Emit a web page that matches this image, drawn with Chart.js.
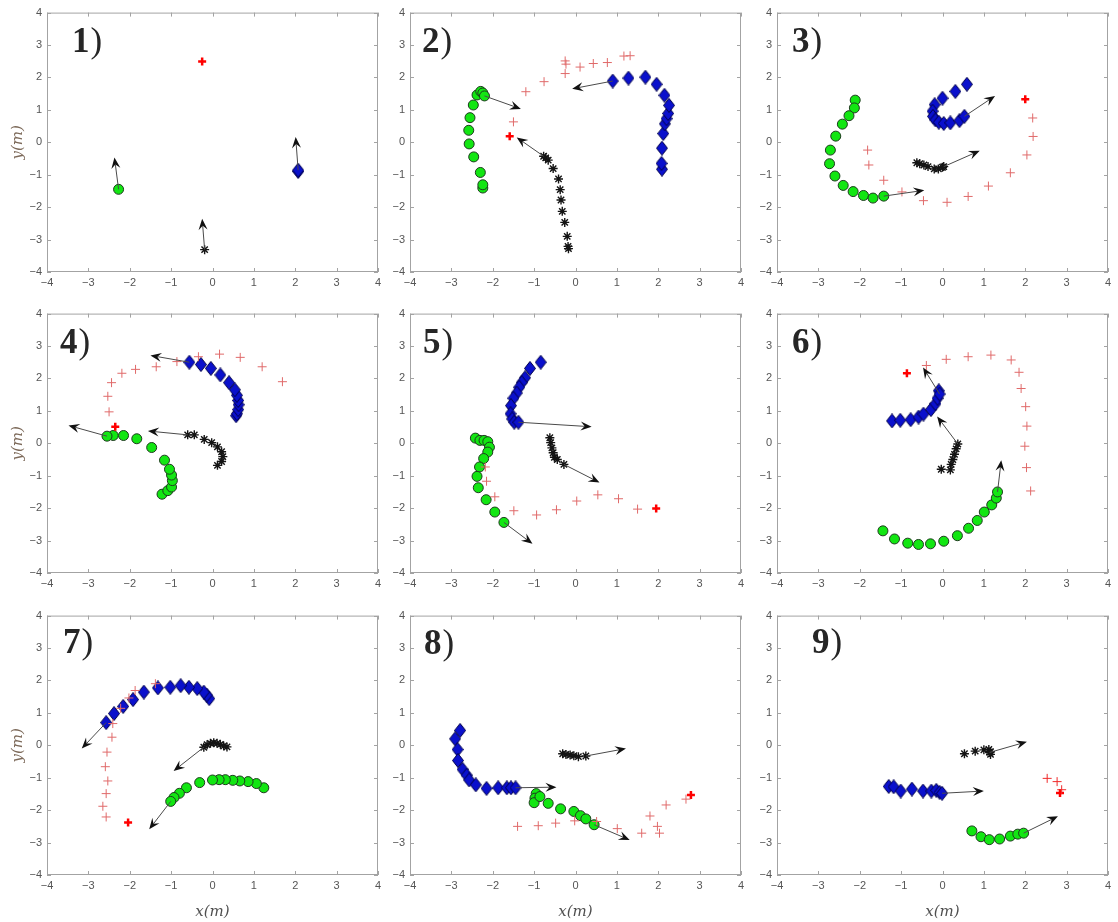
<!DOCTYPE html>
<html>
<head>
<meta charset="utf-8">
<title>tracks</title>
<script src="https://cdn.jsdelivr.net/npm/chart.js@4.4.1/dist/chart.umd.min.js"></script>
<style>
  body { margin: 0; background: #fff; }
  #wrap { position: relative; width: 1118px; height: 922px; overflow: hidden; }
  #wrap canvas { position: absolute; }
</style>
</head>
<body>
<div id="wrap"></div>
<script>
// axis ticks, both axes
const tickValues = [-4, -3, -2, -1, 0, 1, 2, 3, 4];
const panelNames = ['1)', '2)', '3)', '4)', '5)', '6)', '7)', '8)', '9)'];

// green circles, one list per panel (last point = arrow base)
const greenTracks = [
  [[-2.27, -1.45]],
  [[-2.24, -1.41], [-2.24, -1.31], [-2.30, -0.93], [-2.46, -0.45], [-2.57, -0.05], [-2.58, 0.37], [-2.55, 0.76], [-2.47, 1.15], [-2.38, 1.46], [-2.29, 1.57], [-2.24, 1.52], [-2.20, 1.43]],
  [[-2.11, 1.30], [-2.13, 1.06], [-2.26, 0.82], [-2.42, 0.56], [-2.58, 0.19], [-2.71, -0.24], [-2.73, -0.66], [-2.60, -1.04], [-2.40, -1.33], [-2.16, -1.52], [-1.91, -1.64], [-1.68, -1.72], [-1.42, -1.66]],
  [[-1.22, -1.57], [-1.08, -1.46], [-0.99, -1.35], [-0.97, -1.15], [-0.99, -0.98], [-1.04, -0.80], [-1.16, -0.52], [-1.47, -0.13], [-1.83, 0.14], [-2.15, 0.24], [-2.40, 0.24], [-2.55, 0.22]],
  [[-2.42, 0.16], [-2.31, 0.09], [-2.21, 0.09], [-2.12, 0.05], [-2.08, -0.12], [-2.12, -0.27], [-2.22, -0.47], [-2.32, -0.73], [-2.38, -1.02], [-2.35, -1.37], [-2.16, -1.74], [-1.95, -2.12], [-1.73, -2.44]],
  [[-1.44, -2.70], [-1.16, -2.95], [-0.84, -3.08], [-0.58, -3.12], [-0.29, -3.10], [0.03, -3.02], [0.36, -2.85], [0.63, -2.62], [0.84, -2.38], [1.01, -2.12], [1.19, -1.90], [1.30, -1.69], [1.33, -1.50]],
  [[1.24, -1.31], [1.06, -1.18], [0.86, -1.12], [0.66, -1.10], [0.49, -1.08], [0.31, -1.06], [0.16, -1.06], [0.00, -1.07], [-0.31, -1.15], [-0.63, -1.31], [-0.80, -1.48], [-0.93, -1.61], [-1.01, -1.73]],
  [[-0.95, -1.49], [-0.98, -1.63], [-1.00, -1.77], [-0.86, -1.58], [-0.66, -1.79], [-0.36, -1.96], [-0.04, -2.04], [0.12, -2.17], [0.25, -2.27], [0.45, -2.45]],
  [[0.71, -2.64], [0.93, -2.82], [1.13, -2.91], [1.38, -2.89], [1.64, -2.80], [1.82, -2.74], [1.96, -2.71]]
];
const greenTips = [[-2.37, -0.47], [-1.32, 1.03], [-0.44, -1.48], [-3.48, 0.55], [-1.04, -3.10], [1.42, -0.52], [-1.53, -2.59], [1.31, -2.92], [2.79, -2.19]];

// blue diamonds
const blueTracks = [
  [[2.07, -0.90], [2.07, -0.86]],
  [[2.09, -0.83], [2.08, -0.65], [2.09, -0.18], [2.12, 0.27], [2.16, 0.57], [2.20, 0.73], [2.24, 0.89], [2.26, 1.14], [2.15, 1.45], [1.96, 1.79], [1.69, 2.01], [1.28, 1.98], [0.90, 1.89]],
  [[0.59, 1.79], [0.31, 1.57], [0.00, 1.36], [-0.19, 1.16], [-0.24, 0.96], [-0.23, 0.80], [-0.17, 0.69], [-0.09, 0.62], [0.03, 0.58], [0.19, 0.60], [0.41, 0.67], [0.53, 0.80]],
  [[0.57, 0.85], [0.59, 0.91], [0.62, 1.04], [0.63, 1.19], [0.62, 1.32], [0.59, 1.48], [0.54, 1.65], [0.40, 1.87], [0.19, 2.11], [-0.04, 2.31], [-0.28, 2.43], [-0.56, 2.50]],
  [[-0.84, 2.50], [-1.10, 2.31], [-1.22, 2.02], [-1.30, 1.87], [-1.36, 1.73], [-1.42, 1.55], [-1.50, 1.39], [-1.56, 1.16], [-1.57, 0.91], [-1.53, 0.75], [-1.48, 0.65], [-1.38, 0.65]],
  [[-1.22, 0.69], [-1.02, 0.71], [-0.77, 0.73], [-0.58, 0.81], [-0.46, 0.90], [-0.28, 1.04], [-0.17, 1.22], [-0.12, 1.39], [-0.09, 1.62], [-0.07, 1.52]],
  [[-0.08, 1.44], [-0.14, 1.55], [-0.21, 1.64], [-0.37, 1.75], [-0.57, 1.79], [-0.77, 1.84], [-1.02, 1.79], [-1.32, 1.77], [-1.66, 1.64], [-1.92, 1.41], [-2.16, 1.20], [-2.38, 0.98], [-2.57, 0.70]],
  [[-2.79, 0.46], [-2.91, 0.20], [-2.85, -0.13], [-2.84, -0.47], [-2.73, -0.74], [-2.63, -0.92], [-2.57, -1.07], [-2.41, -1.22], [-2.15, -1.33], [-1.87, -1.31], [-1.66, -1.31], [-1.56, -1.31], [-1.45, -1.31]],
  [[-1.30, -1.27], [-1.18, -1.28], [-1.01, -1.41], [-0.74, -1.35], [-0.47, -1.41], [-0.27, -1.41], [-0.15, -1.39], [-0.07, -1.45], [-0.01, -1.48]]
];
const blueTips = [[2.01, 0.16], [-0.08, 1.65], [1.27, 1.43], [-1.50, 2.71], [0.39, 0.51], [-0.47, 2.34], [-3.16, -0.10], [-0.46, -1.29], [1.00, -1.41]];

// black asterisks
const blackTracks = [
  [[-0.19, -3.31]],
  [[-0.17, -3.28], [-0.18, -3.21], [-0.20, -2.90], [-0.26, -2.47], [-0.32, -2.13], [-0.35, -1.78], [-0.37, -1.46], [-0.41, -1.13], [-0.54, -0.81], [-0.66, -0.55], [-0.72, -0.48], [-0.77, -0.43]],
  [[-0.62, -0.63], [-0.55, -0.66], [-0.45, -0.70], [-0.35, -0.75], [-0.20, -0.82], [-0.10, -0.82], [0.00, -0.77], [0.03, -0.75]],
  [[0.12, -0.68], [0.22, -0.56], [0.25, -0.41], [0.22, -0.26], [0.12, -0.11], [-0.02, 0.02], [-0.20, 0.12], [-0.44, 0.26], [-0.60, 0.26]],
  [[-0.62, 0.17], [-0.60, 0.02], [-0.57, -0.14], [-0.54, -0.29], [-0.51, -0.43], [-0.44, -0.50], [-0.28, -0.65]],
  [[-0.03, -0.80], [0.19, -0.82], [0.21, -0.65], [0.25, -0.50], [0.29, -0.34], [0.33, -0.17], [0.37, -0.02]],
  [[0.35, -0.05], [0.27, -0.02], [0.19, 0.03], [0.11, 0.06], [0.03, 0.08], [-0.05, 0.06], [-0.13, 0.02], [-0.21, -0.06]],
  [[-0.31, -0.26], [-0.23, -0.28], [-0.13, -0.30], [-0.04, -0.32], [0.07, -0.35], [0.25, -0.33]],
  [[0.53, -0.26], [0.79, -0.18], [1.00, -0.14], [1.12, -0.13], [1.16, -0.28], [1.16, -0.20], [1.14, -0.22]]
];
const blackTips = [[-0.25, -2.36], [-1.42, 0.15], [0.90, -0.26], [-1.56, 0.38], [0.58, -1.21], [-0.13, 0.83], [-0.94, -0.79], [1.22, -0.10], [2.04, 0.11]];

// red plus trail and current red target
const redTrails = [
  [],
  [[-0.25, 2.51], [-0.23, 2.41], [0.11, 2.32], [0.43, 2.43], [0.77, 2.46], [1.17, 2.66], [1.32, 2.67], [-0.25, 2.12], [-0.76, 1.87], [-1.20, 1.56], [-1.50, 0.63]],
  [[-1.81, -0.24], [-1.78, -0.70], [-1.42, -1.17], [-0.98, -1.53], [-0.46, -1.80], [0.11, -1.85], [0.62, -1.67], [1.11, -1.35], [1.64, -0.94], [2.04, -0.39], [2.19, 0.18], [2.18, 0.75]],
  [[1.69, 1.90], [1.20, 2.36], [0.67, 2.65], [0.17, 2.75], [-0.34, 2.67], [-0.86, 2.52], [-1.36, 2.36], [-1.86, 2.28], [-2.19, 2.16], [-2.44, 1.87], [-2.53, 1.45], [-2.50, 0.97]],
  [[-2.18, -0.73], [-2.15, -1.17], [-1.95, -1.65], [-1.49, -2.08], [-0.94, -2.21], [-0.46, -2.05], [0.03, -1.78], [0.54, -1.59], [1.04, -1.71], [1.50, -2.03]],
  [[2.13, -1.47], [2.03, -0.75], [1.99, -0.09], [2.04, 0.53], [2.01, 1.13], [1.90, 1.69], [1.85, 2.19], [1.66, 2.57], [1.17, 2.72], [0.62, 2.67], [0.09, 2.59], [-0.39, 2.40]],
  [[-1.38, 1.90], [-1.87, 1.69], [-2.02, 1.46], [-2.22, 1.14], [-2.41, 0.67], [-2.43, 0.25], [-2.55, -0.21], [-2.59, -0.66], [-2.53, -1.10], [-2.57, -1.49], [-2.65, -1.88], [-2.57, -2.21]],
  [[-1.40, -2.50], [-0.90, -2.48], [-0.48, -2.40], [-0.02, -2.33], [0.51, -2.35], [1.01, -2.57], [1.60, -2.71], [2.03, -2.71], [1.98, -2.50], [1.80, -2.18], [2.19, -1.84], [2.67, -1.66]],
  [[2.53, -1.02], [2.77, -1.12], [2.88, -1.37]]
];
const redTargets = [[-0.25, 2.49], [-1.59, 0.19], [2.00, 1.33], [-2.35, 0.51], [1.95, -2.01], [-0.86, 2.16], [-2.04, -2.38], [2.79, -1.53], [2.84, -1.47]];

// ---- layout / style (not data) ----
const plotLefts = [47, 410, 777];
const plotTops = [11, 312, 614];
const plotW = 331, plotH = 261;
const tagOffsets = [[25, 39], [12, 39], [15, 39], [13, 39], [13, 39], [15, 39], [16, 37], [14, 38], [35, 37]];
const trailColors = ['#e06a6a', '#e06a6a', '#e06a6a', '#e06a6a', '#e06a6a', '#e06a6a', '#e06a6a', '#e06a6a', '#f02a2a'];

const toPts = list => list.map(p => ({ x: p[0], y: p[1] }));
const minus = v => (v < 0 ? '\u2212' + Math.abs(v) : String(v));

// tall blue diamond used as point image
function makeDiamond() {
  const c = document.createElement('canvas');
  c.width = 12; c.height = 15;
  const g = c.getContext('2d');
  g.beginPath();
  g.moveTo(6, 0.5); g.lineTo(11.5, 7.5); g.lineTo(6, 14.5); g.lineTo(0.5, 7.5);
  g.closePath();
  g.fillStyle = '#0a10cc';
  g.fill();
  g.strokeStyle = '#00004a';
  g.lineWidth = 1;
  g.stroke();
  return c;
}
const diamondImg = makeDiamond();

// box with inward ticks, MATLAB look
const frame = {
  id: 'frame',
  afterDraw(chart) {
    const { ctx, chartArea: a, scales } = chart;
    ctx.save();
    ctx.strokeStyle = '#a3a3a3';
    ctx.lineWidth = 1;
    ctx.strokeRect(a.left + 0.5, a.top + 0.5, a.right - a.left - 1, a.bottom - a.top - 1);
    ctx.beginPath();
    tickValues.forEach(v => {
      const px = Math.round(scales.x.getPixelForValue(v)) + 0.5;
      const py = Math.round(scales.y.getPixelForValue(v)) + 0.5;
      ctx.moveTo(px, a.bottom); ctx.lineTo(px, a.bottom - 4);
      ctx.moveTo(px, a.top); ctx.lineTo(px, a.top + 4);
      ctx.moveTo(a.left, py); ctx.lineTo(a.left + 4, py);
      ctx.moveTo(a.right, py); ctx.lineTo(a.right - 4, py);
    });
    ctx.stroke();
    ctx.restore();
  }
};

// arrows from the last point of every track
const quiver = {
  id: 'quiver',
  afterDatasetsDraw(chart, args, opts) {
    const { ctx, scales } = chart;
    ctx.save();
    opts.arrows.forEach(ar => {
      const x0 = scales.x.getPixelForValue(ar[0][0]);
      const y0 = scales.y.getPixelForValue(ar[0][1]);
      const x1 = scales.x.getPixelForValue(ar[1][0]);
      const y1 = scales.y.getPixelForValue(ar[1][1]);
      const ang = Math.atan2(y1 - y0, x1 - x0);
      const len = 11, half = 4.5, notch = 7;
      ctx.strokeStyle = '#4a4a4a';
      ctx.lineWidth = 1;
      ctx.beginPath();
      ctx.moveTo(x0, y0);
      ctx.lineTo(x1 - Math.cos(ang) * notch, y1 - Math.sin(ang) * notch);
      ctx.stroke();
      ctx.save();
      ctx.translate(x1, y1);
      ctx.rotate(ang);
      ctx.beginPath();
      ctx.moveTo(0, 0);
      ctx.lineTo(-len, -half);
      ctx.lineTo(-notch, 0);
      ctx.lineTo(-len, half);
      ctx.closePath();
      ctx.fillStyle = '#111';
      ctx.fill();
      ctx.restore();
    });
    ctx.restore();
  }
};

// "1)" style tag in the corner
const panelTag = {
  id: 'panelTag',
  afterDraw(chart, args, opts) {
    const { ctx, chartArea: a } = chart;
    const x = a.left + opts.dx, y = a.top + opts.dy;
    ctx.save();
    ctx.fillStyle = '#262626';
    ctx.textBaseline = 'alphabetic';
    ctx.font = 'bold 35px "Liberation Serif"';
    const digit = opts.text.slice(0, -1);
    ctx.fillText(digit, x, y);
    const w = ctx.measureText(digit).width;
    ctx.font = '35px "Liberation Serif"';
    ctx.fillText(opts.text.slice(-1), x + w + 1, y);
    ctx.restore();
  }
};

const wrap = document.getElementById('wrap');

panelNames.forEach((name, p) => {
  const col = p % 3, row = Math.floor(p / 3);
  const padL = col === 0 ? 47 : 34;
  const padT = 10, padR = 8;
  const padB = row === 2 ? 922 - (plotTops[2] + plotH) : 28;

  const canvas = document.createElement('canvas');
  canvas.width = plotW + padL + padR;
  canvas.height = plotH + padT + padB;
  canvas.style.left = (plotLefts[col] - padL) + 'px';
  canvas.style.top = (plotTops[row] - padT) + 'px';
  wrap.appendChild(canvas);

  const tickOpts = pad => ({
    autoSkip: false,
    maxRotation: 0,
    padding: pad,
    color: '#555',
    font: { family: '"Liberation Sans", Arial, sans-serif', size: 11 },
    callback: v => minus(v)
  });

  const arrows = [
    [greenTracks[p][greenTracks[p].length - 1], greenTips[p]],
    [blueTracks[p][blueTracks[p].length - 1], blueTips[p]],
    [blackTracks[p][blackTracks[p].length - 1], blackTips[p]]
  ];

  new Chart(canvas, {
    type: 'scatter',
    data: {
      datasets: [
        { data: toPts(redTrails[p]), pointStyle: 'cross', pointRadius: 4.5, borderColor: trailColors[p], borderWidth: 1 },
        { data: toPts([redTargets[p]]), pointStyle: 'cross', pointRadius: 4, borderColor: '#ff0000', borderWidth: 2.5 },
        { data: toPts(blackTracks[p]), pointStyle: 'star', pointRadius: 4.5, borderColor: '#141414', borderWidth: 1.4 },
        { data: toPts(blueTracks[p]), pointStyle: diamondImg, pointRadius: 6 },
        { data: toPts(greenTracks[p]), pointStyle: 'circle', pointRadius: 5, backgroundColor: '#12e612', borderColor: '#1e3a1e', borderWidth: 1 }
      ]
    },
    options: {
      responsive: false,
      animation: false,
      devicePixelRatio: 1,
      events: [],
      layout: { padding: { top: padT, right: padR, left: 0, bottom: 0 } },
      scales: {
        x: {
          type: 'linear', min: -4, max: 4,
          afterBuildTicks: s => { s.ticks = tickValues.map(v => ({ value: v })); },
          afterFit: s => { s.height = padB; },
          ticks: tickOpts(4),
          grid: { display: false, drawTicks: false },
          border: { display: false },
          title: {
            display: row === 2, text: 'x(m)', color: '#4f4f4f',
            font: { family: '"DejaVu Serif", serif', style: 'italic', size: 15 },
            padding: { top: 0, bottom: 1 }
          }
        },
        y: {
          type: 'linear', min: -4, max: 4,
          afterBuildTicks: s => { s.ticks = tickValues.map(v => ({ value: v })); },
          afterFit: s => { s.width = padL; },
          ticks: tickOpts(5),
          grid: { display: false, drawTicks: false },
          border: { display: false },
          title: {
            display: col === 0, text: 'y(m)', color: '#7d6a5a',
            font: { family: '"DejaVu Serif", serif', style: 'italic', size: 15 },
            padding: { top: 9, bottom: 0 }
          }
        }
      },
      plugins: {
        legend: { display: false },
        tooltip: { enabled: false },
        quiver: { arrows: arrows },
        panelTag: { text: name, dx: tagOffsets[p][0], dy: tagOffsets[p][1] }
      }
    },
    plugins: [frame, quiver, panelTag]
  });
});
</script>
</body>
</html>
